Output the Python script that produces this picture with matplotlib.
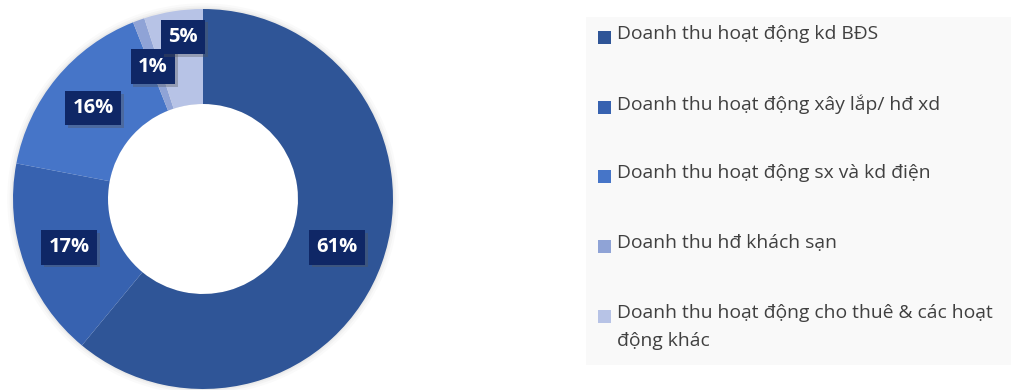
import matplotlib.pyplot as plt
from matplotlib.patches import Rectangle, Wedge
import matplotlib.patheffects as pe
import numpy as np

plt.rcParams["font.family"] = ["Open Sans", "DejaVu Sans"]

labels = ["Doanh thu hoạt động kd BĐS",
          "Doanh thu hoạt động xây lắp/ hđ xd",
          "Doanh thu hoạt động sx và kd điện",
          "Doanh thu hđ khách sạn",
          "Doanh thu hoạt động cho thuê & các hoạt\nđộng khác"]
values = [61, 17, 16, 1, 5]
pct_labels = ["61%", "17%", "16%", "1%", "5%"]
colors = ["#2f5597", "#3762b0", "#4675c8", "#8fa3d6", "#b7c3e6"]

W, H = 1012, 390
fig = plt.figure(figsize=(W / 100, H / 100), dpi=100)

# donut: centre (203, 199) px, radius 190 px
cx, cy, r = 203, 199, 190
ax = fig.add_axes([(cx - r) / W, (H - cy - r) / H, 2 * r / W, 2 * r / H])

wedges, _ = ax.pie(values, colors=colors, startangle=90, counterclock=False,
                   radius=1, wedgeprops=dict(width=0.5, edgecolor="none"))
ax.set_xlim(-1, 1)
ax.set_ylim(-1, 1)
ax.set_aspect("equal")
ax.axis("off")

# soft shadow around ring
for k, a in zip([1.03, 1.018, 1.008], [0.04, 0.06, 0.08]):
    ax.add_patch(Wedge((0, 0), k, 0, 360, width=k - 0.5, color="#888888",
                       alpha=a, lw=0, zorder=0, clip_on=False))

cum = np.cumsum(values) - np.array(values) / 2
dist = [0.75, 0.75, 0.75, 0.745, 0.86]
shift = [0, 0, 0, 1, -2]  # degrees, nudge the small labels
for c, d, s, t in zip(cum, dist, shift, pct_labels):
    ang = np.deg2rad(90 - c / sum(values) * 360 + s)
    x, y = d * np.cos(ang), d * np.sin(ang)
    txt = ax.text(x, y, t, ha="center", va="center", fontsize=14.5,
                  fontweight="bold", color="white",
                  bbox=dict(boxstyle="square,pad=0.36", fc="#0f2766", ec="none"),
                  zorder=5)
    txt.get_bbox_patch().set_path_effects(
        [pe.SimplePatchShadow(offset=(2, -2), shadow_rgbFace="#555555", alpha=0.35),
         pe.Normal()])

# legend panel
fig.patches.append(Rectangle((586 / W, 1 - 365 / H), (1011 - 586) / W, (365 - 17) / H,
                             transform=fig.transFigure, fc="#f9f9f9", ec="none"))
rows = [37, 107, 176, 246, 316]
for lab, col, yy in zip(labels, colors, rows):
    fig.patches.append(Rectangle((598 / W, 1 - (yy + 6.5) / H), 13 / W, 13 / H,
                                 transform=fig.transFigure, fc=col, ec="none"))
    fig.text(617 / W, 1 - (yy - 12) / H, lab, ha="left", va="top",
             fontsize=13.9, color="#404040", linespacing=1.75)

fig.savefig("out.png", dpi=100)
